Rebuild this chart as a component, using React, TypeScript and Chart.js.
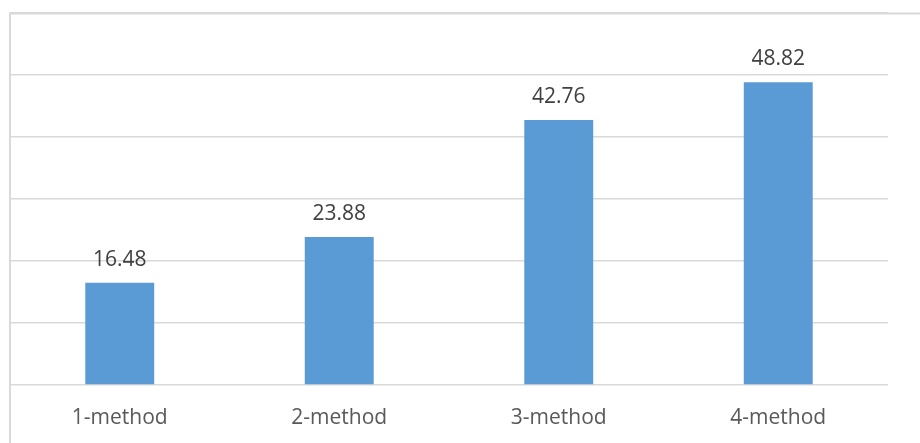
import React, { useEffect, useRef } from "react";
import { Chart, registerables } from "chart.js";

Chart.register(...registerables);

const categories = ["1-method", "2-method", "3-method", "4-method"];
const values = [16.48, 23.88, 42.76, 48.82];
const valueLabels = ["16.48", "23.88", "42.76", "48.82"];

const FONT = "'Open Sans', 'Noto Sans', sans-serif";

const decorPlugin = {
  id: "decor",
  afterDatasetsDraw(chart: any) {
    const { ctx } = chart;
    const meta = chart.getDatasetMeta(0);
    ctx.save();
    ctx.font = `21px ${FONT}`;
    ctx.fillStyle = "#404040";
    ctx.textAlign = "center";
    ctx.textBaseline = "alphabetic";
    meta.data.forEach((bar: any, i: number) => {
      ctx.fillText(valueLabels[i], bar.x, bar.y - 17);
    });
    ctx.restore();
  },
  afterDraw(chart: any) {
    const { ctx, width, height } = chart;
    ctx.save();
    ctx.strokeStyle = "#d9d9d9";
    ctx.lineWidth = 2;
    ctx.beginPath();
    ctx.moveTo(10, height);
    ctx.lineTo(10, 13.5);
    ctx.lineTo(width, 13.5);
    ctx.stroke();
    ctx.restore();
  },
};

export default function App() {
  const ref = useRef<HTMLCanvasElement | null>(null);
  useEffect(() => {
    if (!ref.current) return;
    const chart = new Chart(ref.current, {
      type: "bar",
      data: {
        labels: categories,
        datasets: [
          {
            data: values,
            backgroundColor: "#5b9bd5",
            borderWidth: 0,
            categoryPercentage: 1,
            barPercentage: 0.314,
          },
        ],
      },
      options: {
        animation: false,
        responsive: false,
        maintainAspectRatio: false,
        devicePixelRatio: 1,
        layout: { padding: { left: 10, right: 32, top: 13, bottom: 0 } },
        plugins: { legend: { display: false }, tooltip: { enabled: false } },
        scales: {
          x: {
            grid: { display: false, drawTicks: false },
            border: { display: false },
            ticks: {
              color: "#595959",
              font: { family: FONT, size: 21 },
              padding: 20,
              maxRotation: 0,
              autoSkip: false,
            },
            afterFit: (s: any) => {
              s.height = 58;
            },
          },
          y: {
            min: 0,
            max: 60,
            ticks: { display: false, stepSize: 10 },
            grid: { color: "#d9d9d9", lineWidth: 1.5, drawTicks: false },
            border: { display: false },
            afterFit: (s: any) => {
              s.width = 0;
            },
          },
        },
      },
      plugins: [decorPlugin],
    });
    return () => chart.destroy();
  }, []);
  return (
    <div style={{ position: "absolute", left: 0, top: 0, width: 920, height: 443, background: "#fff" }}>
      <canvas ref={ref} width={920} height={443} style={{ width: 920, height: 443, display: "block" }} />
    </div>
  );
}
